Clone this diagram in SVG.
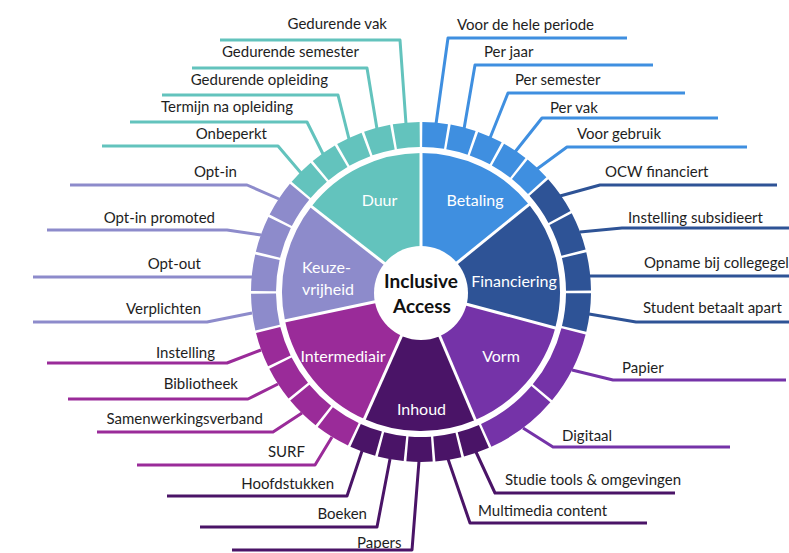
<svg xmlns="http://www.w3.org/2000/svg" width="789" height="553" viewBox="0 0 789 553">
<style>
.lbl{font-family:Lato,'Open Sans','Liberation Sans',sans-serif;font-size:15px;fill:#1e1e1e}
.r{text-anchor:end}
.cat{font-family:Lato,'Open Sans','Liberation Sans',sans-serif;font-size:16px;fill:#fff;text-anchor:middle}
.cs{text-anchor:start}
.ctr{font-family:Lato,'Open Sans','Liberation Sans',sans-serif;font-size:19px;font-weight:bold;fill:#111;text-anchor:middle}
.sec{fill:none;stroke-width:109}
.seg{fill:none;stroke-width:25}
.sep line{stroke:#fff;stroke-width:3}
.conn path{fill:none;stroke-width:3;stroke-linejoin:round}
.duur{stroke:#63C3BD}
.bet{stroke:#3F8FE0}
.fin{stroke:#2E5396}
.vorm{stroke:#7533A8}
.inh{stroke:#4A1467}
.int{stroke:#9A2B99}
.keu{stroke:#8D8BCB}
</style>
<rect width="789" height="553" fill="#fff"/>

<g id="cat-duur"><circle class="sec duur" r="84.5" stroke-dasharray="76.69 600" transform="translate(421 292) rotate(218)"/><text class="cat" x="379.5" y="206">Duur</text></g>
<g id="cat-betaling"><circle class="sec bet" r="84.5" stroke-dasharray="75.21 600" transform="translate(421 292) rotate(-90)"/><text class="cat" x="475" y="206">Betaling</text></g>
<g id="cat-financiering"><circle class="sec fin" r="84.5" stroke-dasharray="79.64 600" transform="translate(421 292) rotate(-39)"/><text class="cat" x="514" y="287">Financiering</text></g>
<g id="cat-vorm"><circle class="sec vorm" r="84.5" stroke-dasharray="76.69 600" transform="translate(421 292) rotate(15)"/><text class="cat" x="501" y="362">Vorm</text></g>
<g id="cat-inhoud"><circle class="sec inh" r="84.5" stroke-dasharray="69.32 600" transform="translate(421 292) rotate(67)"/><text class="cat" x="421.5" y="415">Inhoud</text></g>
<g id="cat-intermediair"><circle class="sec int" r="84.5" stroke-dasharray="79.64 600" transform="translate(421 292) rotate(114)"/><text class="cat" x="343" y="362">Intermediair</text></g>
<g id="cat-keuzevrijheid"><circle class="sec keu" r="84.5" stroke-dasharray="73.74 600" transform="translate(421 292) rotate(168)"/><text class="cat cs" x="302" y="273">Keuze-</text><text class="cat cs" x="302" y="295">vrijheid</text></g>

<g class="sep">
<line x2="142" transform="translate(421 292) rotate(218)"/>
<line x2="142" transform="translate(421 292) rotate(270)"/>
<line x2="142" transform="translate(421 292) rotate(-39)"/>
<line x2="142" transform="translate(421 292) rotate(15)"/>
<line x2="142" transform="translate(421 292) rotate(67)"/>
<line x2="142" transform="translate(421 292) rotate(114)"/>
<line x2="142" transform="translate(421 292) rotate(168)"/>
</g>

<g id="leaf-gedurende-vak"><circle class="seg duur" r="157.5" stroke-dasharray="25.01 999" transform="translate(421 292) rotate(260.45)"/><text class="lbl r" x="387" y="29">Gedurende vak</text></g>
<g id="leaf-gedurende-semester"><circle class="seg duur" r="157.5" stroke-dasharray="25.01 999" transform="translate(421 292) rotate(250.45)"/><text class="lbl r" x="359" y="57">Gedurende semester</text></g>
<g id="leaf-gedurende-opleiding"><circle class="seg duur" r="157.5" stroke-dasharray="25.01 999" transform="translate(421 292) rotate(240.45)"/><text class="lbl r" x="328" y="85">Gedurende opleiding</text></g>
<g id="leaf-termijn"><circle class="seg duur" r="157.5" stroke-dasharray="25.01 999" transform="translate(421 292) rotate(230.45)"/><text class="lbl r" x="293" y="112">Termijn na opleiding</text></g>
<g id="leaf-onbeperkt"><circle class="seg duur" r="157.5" stroke-dasharray="25.01 999" transform="translate(421 292) rotate(220.45)"/><text class="lbl r" x="267" y="139">Onbeperkt</text></g>

<g id="leaf-hele-periode"><circle class="seg bet" r="157.5" stroke-dasharray="23.92 999" transform="translate(421 292) rotate(-89.55)"/><text class="lbl" x="457" y="30">Voor de hele periode</text></g>
<g id="leaf-per-jaar"><circle class="seg bet" r="157.5" stroke-dasharray="23.92 999" transform="translate(421 292) rotate(-79.95)"/><text class="lbl" x="484" y="57">Per jaar</text></g>
<g id="leaf-per-semester"><circle class="seg bet" r="157.5" stroke-dasharray="23.92 999" transform="translate(421 292) rotate(-70.35)"/><text class="lbl" x="515" y="85">Per semester</text></g>
<g id="leaf-per-vak"><circle class="seg bet" r="157.5" stroke-dasharray="23.92 999" transform="translate(421 292) rotate(-60.75)"/><text class="lbl" x="550" y="113">Per vak</text></g>
<g id="leaf-voor-gebruik"><circle class="seg bet" r="157.5" stroke-dasharray="23.92 999" transform="translate(421 292) rotate(-51.15)"/><text class="lbl" x="577" y="139">Voor gebruik</text></g>

<g id="leaf-ocw"><circle class="seg fin" r="157.5" stroke-dasharray="36.01 999" transform="translate(421 292) rotate(-41.55)"/><text class="lbl" x="605" y="177">OCW financiert</text></g>
<g id="leaf-subsidieert"><circle class="seg fin" r="157.5" stroke-dasharray="36.01 999" transform="translate(421 292) rotate(-27.55)"/><text class="lbl" x="628" y="223">Instelling subsidieert</text></g>
<g id="leaf-collegegeld"><circle class="seg fin" r="157.5" stroke-dasharray="36.01 999" transform="translate(421 292) rotate(-13.55)"/><text class="lbl" x="644" y="268">Opname bij collegegel</text></g>
<g id="leaf-apart"><circle class="seg fin" r="157.5" stroke-dasharray="36.01 999" transform="translate(421 292) rotate(0.45)"/><text class="lbl" x="643" y="313">Student betaalt apart</text></g>

<g id="leaf-papier"><circle class="seg vorm" r="157.5" stroke-dasharray="69 999" transform="translate(421 292) rotate(14.45)"/><text class="lbl" x="622" y="373">Papier</text></g>
<g id="leaf-digitaal"><circle class="seg vorm" r="157.5" stroke-dasharray="69 999" transform="translate(421 292) rotate(40.45)"/><text class="lbl" x="562" y="441">Digitaal</text></g>

<g id="leaf-studietools"><circle class="seg inh" r="157.5" stroke-dasharray="24.47 999" transform="translate(421 292) rotate(66.45)"/><text class="lbl" x="505" y="485">Studie tools &amp; omgevingen</text></g>
<g id="leaf-multimedia"><circle class="seg inh" r="157.5" stroke-dasharray="24.47 999" transform="translate(421 292) rotate(76.25)"/><text class="lbl" x="478" y="516">Multimedia content</text></g>
<g id="leaf-papers"><circle class="seg inh" r="157.5" stroke-dasharray="24.47 999" transform="translate(421 292) rotate(86.05)"/><text class="lbl" x="357" y="548">Papers</text></g>
<g id="leaf-boeken"><circle class="seg inh" r="157.5" stroke-dasharray="24.47 999" transform="translate(421 292) rotate(95.85)"/><text class="lbl r" x="367" y="519">Boeken</text></g>
<g id="leaf-hoofdstukken"><circle class="seg inh" r="157.5" stroke-dasharray="24.47 999" transform="translate(421 292) rotate(105.65)"/><text class="lbl r" x="334" y="489">Hoofdstukken</text></g>

<g id="leaf-surf"><circle class="seg int" r="157.5" stroke-dasharray="32.92 999" transform="translate(421 292) rotate(115.45)"/><text class="lbl r" x="305" y="457">SURF</text></g>
<g id="leaf-samenwerking"><circle class="seg int" r="157.5" stroke-dasharray="32.92 999" transform="translate(421 292) rotate(128.325)"/><text class="lbl r" x="263" y="424">Samenwerkingsverband</text></g>
<g id="leaf-bibliotheek"><circle class="seg int" r="157.5" stroke-dasharray="32.92 999" transform="translate(421 292) rotate(141.2)"/><text class="lbl r" x="238" y="389">Bibliotheek</text></g>
<g id="leaf-instelling"><circle class="seg int" r="157.5" stroke-dasharray="32.92 999" transform="translate(421 292) rotate(154.075)"/><text class="lbl r" x="215" y="358">Instelling</text></g>

<g id="leaf-verplichten"><circle class="seg keu" r="157.5" stroke-dasharray="34.29 999" transform="translate(421 292) rotate(166.95)"/><text class="lbl r" x="201" y="314">Verplichten</text></g>
<g id="leaf-optout"><circle class="seg keu" r="157.5" stroke-dasharray="34.29 999" transform="translate(421 292) rotate(180.325)"/><text class="lbl r" x="201" y="269">Opt-out</text></g>
<g id="leaf-optin-promoted"><circle class="seg keu" r="157.5" stroke-dasharray="34.29 999" transform="translate(421 292) rotate(193.7)"/><text class="lbl r" x="215" y="223">Opt-in promoted</text></g>
<g id="leaf-optin"><circle class="seg keu" r="157.5" stroke-dasharray="34.29 999" transform="translate(421 292) rotate(207.075)"/><text class="lbl r" x="237" y="177">Opt-in</text></g>

<g id="connectors" class="conn">
<path class="duur" d="M220,40 H400 L406,124"/>
<path class="duur" d="M192,68 H367 L377,129"/>
<path class="duur" d="M162,95 H338 L349,139"/>
<path class="duur" d="M130,122 H307 L323,154"/>
<path class="duur" d="M102,146 H278 L301,173"/>
<path class="bet" d="M627,38 H448 L436,124"/>
<path class="bet" d="M653,65 H475 L464,129"/>
<path class="bet" d="M685,93 H508 L490,138"/>
<path class="bet" d="M718,118 H542 L515,152"/>
<path class="bet" d="M747,147 H567 L537,169"/>
<path class="fin" d="M777,185 H600 L560,196"/>
<path class="fin" d="M789,228 H622 L580,232"/>
<path class="fin" d="M589,276 H789"/>
<path class="fin" d="M589,314 L636,322 H789"/>
<path class="vorm" d="M572,370 L613,380 H786"/>
<path class="vorm" d="M523,428 L553,447 H730"/>
<path class="inh" d="M476,452 L495,493 H675"/>
<path class="inh" d="M448,459 L470,523 H647"/>
<path class="inh" d="M419,461 L412,550 H232"/>
<path class="inh" d="M390,459 L377,527 H200"/>
<path class="inh" d="M362,451 L347,496 H167"/>
<path class="int" d="M332,437 L315,465 H137"/>
<path class="int" d="M302,413 L273,432 H97"/>
<path class="int" d="M278,384 L248,399 H68"/>
<path class="int" d="M261,350 L227,363 H47"/>
<path class="keu" d="M252,313 L207,322 H33"/>
<path class="keu" d="M252,277 H33"/>
<path class="keu" d="M261,235 L227,230 H47"/>
<path class="keu" d="M279,199 L247,185 H70"/>
</g>

<g id="center">
<circle cx="421" cy="293" r="47" fill="#fff"/>
<text class="ctr" x="421" y="288">Inclusive</text>
<text class="ctr" x="422" y="313">Access</text>
</g>
</svg>
